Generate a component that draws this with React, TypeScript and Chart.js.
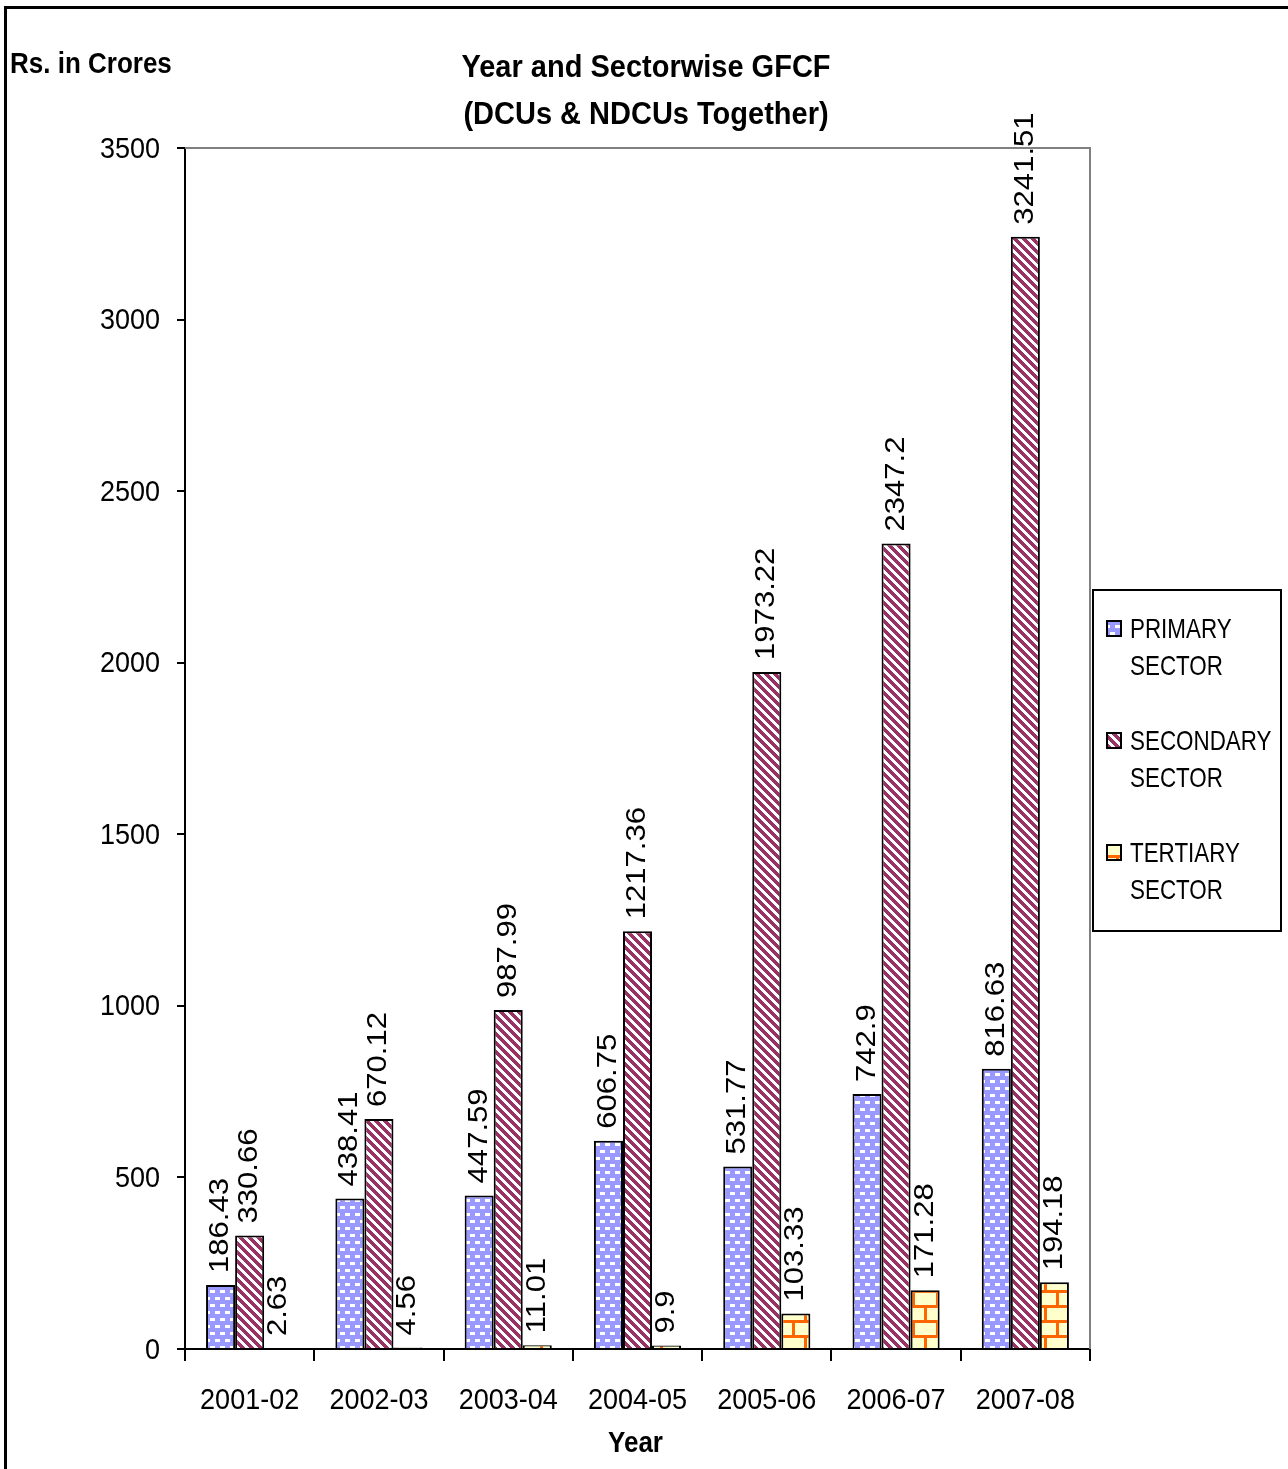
import React, { useEffect, useRef } from 'react';
import { Chart, registerables } from 'chart.js';

Chart.register(...registerables);

// ---- data ----
const years = ['2001-02', '2002-03', '2003-04', '2004-05', '2005-06', '2006-07', '2007-08'];
const primarySector = [186.43, 438.41, 447.59, 606.75, 531.77, 742.9, 816.63];
const secondarySector = [330.66, 670.12, 987.99, 1217.36, 1973.22, 2347.2, 3241.51];
const tertiarySector = [2.63, 4.56, 11.01, 9.9, 103.33, 171.28, 194.18];
const seriesLabels = [
  ['PRIMARY', 'SECTOR'],
  ['SECONDARY', 'SECTOR'],
  ['TERTIARY', 'SECTOR'],
];
const yMin = 0;
const yMax = 3500;
const yStep = 500;
const titleLines = ['Year and Sectorwise GFCF', '(DCUs & NDCUs Together)'];
const yAxisTitle = 'Rs. in Crores';
const xAxisTitle = 'Year';

const FONT = '"Liberation Sans", Arial, sans-serif';
const STRETCH = 1.09;

function makePattern(ctx: CanvasRenderingContext2D, kind: string): CanvasPattern | string {
  const c = document.createElement('canvas');
  const g = c.getContext('2d')!;
  if (kind === 'primary') {
    c.width = 10; c.height = 14;
    g.fillStyle = '#9999FF';
    g.fillRect(0, 0, 10, 14);
    g.fillStyle = '#FFFFFF';
    g.fillRect(0, 2, 5, 3);
    g.fillRect(5, 9, 5, 3);
  } else if (kind === 'secondary') {
    c.width = 9; c.height = 9;
    g.fillStyle = '#FFFFFF';
    g.fillRect(0, 0, 9, 9);
    g.fillStyle = '#993366';
    for (let y = 0; y < 9; y++) {
      for (let x = 0; x < 9; x++) {
        const d = (((x - y) % 9) + 9) % 9;
        if (d < 5) g.fillRect(x, y, 1, 1);
      }
    }
  } else {
    c.width = 24; c.height = 30;
    g.fillStyle = '#FFFFCC';
    g.fillRect(0, 0, 24, 30);
    g.fillStyle = '#FF6600';
    g.fillRect(0, 0, 24, 3);
    g.fillRect(0, 15, 24, 3);
    g.fillRect(0, 0, 3, 15);
    g.fillRect(12, 15, 3, 15);
  }
  return ctx.createPattern(c, 'repeat') || '#888';
}

function drawText(ctx: CanvasRenderingContext2D, text: string, x: number, baseline: number, font: string, align: CanvasTextAlign, sx = 1, sy = STRETCH) {
  ctx.save();
  ctx.font = font;
  ctx.textAlign = align;
  ctx.textBaseline = 'alphabetic';
  ctx.fillStyle = '#000';
  ctx.translate(x, baseline);
  ctx.scale(sx, sy);
  ctx.fillText(text, 0, 0);
  ctx.restore();
}

export default function App() {
  const ref = useRef<HTMLCanvasElement | null>(null);

  useEffect(() => {
    document.body.style.margin = '0';
    const canvas = ref.current!;
    const ctx0 = canvas.getContext('2d')!;
    const patPrimary = makePattern(ctx0, 'primary');
    const patSecondary = makePattern(ctx0, 'secondary');
    const patTertiary = makePattern(ctx0, 'tertiary');
    const pats = [patPrimary, patSecondary, patTertiary];

    const decor = {
      id: 'decor',
      beforeDraw(chart: any) {
        const ctx = chart.ctx;
        ctx.save();
        ctx.fillStyle = '#FFFFFF';
        ctx.fillRect(0, 0, chart.width, chart.height);
        ctx.strokeStyle = '#000';
        ctx.lineWidth = 3;
        ctx.beginPath();
        ctx.moveTo(5.5, chart.height);
        ctx.lineTo(5.5, 7.5);
        ctx.lineTo(chart.width, 7.5);
        ctx.stroke();
        ctx.restore();
      },
      beforeDatasetsDraw(chart: any) {
        const ctx = chart.ctx;
        const a = chart.chartArea;
        ctx.save();
        ctx.strokeStyle = '#808080';
        ctx.lineWidth = 2;
        ctx.beginPath();
        ctx.moveTo(a.left, a.top);
        ctx.lineTo(a.right, a.top);
        ctx.lineTo(a.right, a.bottom);
        ctx.stroke();
        ctx.restore();
      },
      afterDatasetsDraw(chart: any) {
        const ctx = chart.ctx;
        const a = chart.chartArea;
        const ys = chart.scales.y;
        const xs = chart.scales.x;
        // tick labels
        const tickFont = `27px ${FONT}`;
        ys.ticks.forEach((t: any) => {
          const py = ys.getPixelForValue(t.value);
          drawText(ctx, String(t.value), a.left - 25, py + 0.358 * 27 * STRETCH - 1, tickFont, 'right');
        });
        chart.data.labels.forEach((lab: string, i: number) => {
          const px = xs.getPixelForValue(i);
          drawText(ctx, lab, px, a.bottom + 60, tickFont, 'center');
        });
        // data labels
        chart.data.datasets.forEach((ds: any, di: number) => {
          const meta = chart.getDatasetMeta(di);
          meta.data.forEach((bar: any, i: number) => {
            ctx.save();
            ctx.fillStyle = '#000';
            ctx.font = `28.5px ${FONT}`;
            ctx.textAlign = 'left';
            ctx.textBaseline = 'alphabetic';
            ctx.translate(bar.x + 7.5, bar.y - 12);
            ctx.rotate(-Math.PI / 2);
            ctx.scale(STRETCH, 1);
            ctx.fillText(String(ds.data[i]), 0, 0);
            ctx.restore();
          });
        });
        // title
        const titleFont = `bold 29px ${FONT}`;
        drawText(ctx, titleLines[0], 646, 77, titleFont, 'center', 1, 1.06);
        drawText(ctx, titleLines[1], 646, 124, titleFont, 'center', 1, 1.06);
        // axis titles
        drawText(ctx, yAxisTitle, 10, 73, `bold 26px ${FONT}`, 'left', 1, 1.12);
        drawText(ctx, xAxisTitle, (a.left + a.right) / 2 - 2, 1452, `bold 26px ${FONT}`, 'center', 1, 1.12);
        // legend
        ctx.save();
        ctx.lineWidth = 2;
        ctx.strokeStyle = '#000';
        ctx.strokeRect(1093, 590, 188, 341);
        const rows = [628, 740, 852];
        seriesLabels.forEach((lines, k) => {
          const cy = rows[k];
          ctx.fillStyle = pats[k];
          ctx.fillRect(1107, cy - 7, 14, 15);
          ctx.strokeStyle = '#000';
          ctx.lineWidth = 2;
          ctx.strokeRect(1107, cy - 7, 14, 15);
          lines.forEach((t, j) => {
            drawText(ctx, t, 1130, cy + 10 + j * 37, `28px ${FONT}`, 'left', 0.8, 1);
          });
        });
        ctx.restore();
      },
    };

    const chart = new Chart(canvas, {
      type: 'bar',
      data: {
        labels: years,
        datasets: [
          { label: 'PRIMARY SECTOR', data: primarySector, backgroundColor: patPrimary as any, borderColor: '#000', borderWidth: 2 },
          { label: 'SECONDARY SECTOR', data: secondarySector, backgroundColor: patSecondary as any, borderColor: '#000', borderWidth: 2 },
          { label: 'TERTIARY SECTOR', data: tertiarySector, backgroundColor: patTertiary as any, borderColor: '#000', borderWidth: 2 },
        ],
      },
      options: {
        responsive: false,
        animation: false,
        devicePixelRatio: 1,
        layout: { padding: { left: 0, right: 198, top: 148, bottom: 0 } },
        datasets: { bar: { categoryPercentage: 0.674, barPercentage: 1 } } as any,
        plugins: {
          legend: { display: false },
          tooltip: { enabled: false },
          title: { display: false },
        },
        scales: {
          x: {
            ticks: { display: false, maxRotation: 0, autoSkip: false },
            grid: { offset: true, drawOnChartArea: false, drawTicks: true, tickLength: 12, color: '#000', lineWidth: 2 },
            border: { color: '#000', width: 2 },
            afterFit: (s: any) => { s.height = 120; },
          },
          y: {
            min: yMin,
            max: yMax,
            ticks: { display: false, stepSize: yStep },
            grid: { drawOnChartArea: false, drawTicks: true, tickLength: 8, color: '#000', lineWidth: 2 },
            border: { color: '#000', width: 2 },
            afterFit: (s: any) => { s.width = 185; },
          },
        },
      },
      plugins: [decor],
    });

    return () => chart.destroy();
  }, []);

  return (
    <div style={{ width: 1288, height: 1469 }}>
      <canvas ref={ref} width={1288} height={1469} style={{ display: 'block', width: 1288, height: 1469 }} />
    </div>
  );
}
